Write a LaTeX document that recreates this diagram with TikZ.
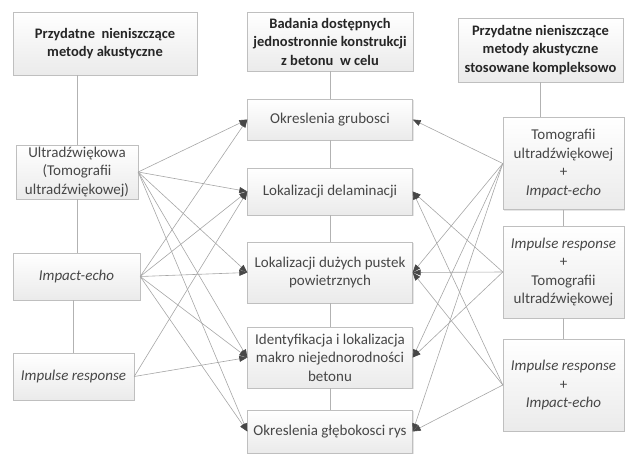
\documentclass[tikz,border=0pt]{standalone}
\usepackage{fontspec}
\setmainfont{Carlito}
\usetikzlibrary{arrows.meta}
\usetikzlibrary{shadows}

\begin{document}
\begin{tikzpicture}[x=1pt, y=-1pt,
    box/.style = {draw=gray!50, top color=white, bottom color=gray!16,
                align=center, inner sep=1pt, text=black!72,
                font=\fontsize{15}{18.5}\selectfont,
                drop shadow={opacity=0.2, shadow xshift=1.2pt, shadow yshift=-1.2pt}},
    head/.style = {box, text=black!85, font=\fontsize{14.5}{18.5}\selectfont\bfseries},
    rail/.style = {draw=gray!60, line width=0.7pt},
    link/.style = {draw=gray!70, line width=0.6pt,
                -{Triangle[length=8pt, width=6pt, color=black!72]}}
                    ]
    \useasboundingbox (0,0) rectangle (629,455);
        % headers
        \foreach \x/\y/\w/\h/\v/\t in {105/43.5/184/63/hL/{Przydatne\ \ nieniszczące\\metody akustyczne},
                330/41.5/166/59/hM/{Badania dostępnych\\jednostronnie konstrukcji\\z betonu\ \ w celu},
                540.5/50/165/64/hR/{Przydatne nieniszczące\\metody akustyczne\\stosowane kompleksowo}}
            \node[head, minimum width=\w pt, minimum height=\h pt] at (\x,\y) (\v) {\t};
        % methods
        \foreach \x/\y/\w/\h/\v/\t in {77/172/122/54/ultra/{Ultradźwiękowa\\(Tomografii\\ultradźwiękowej)},
                76.5/276.5/127/47/impact/{\textit{Impact-echo}},
                73.5/376.5/121/47/impulse/{\textit{Impulse response}}}
            \node[box, minimum width=\w pt, minimum height=\h pt] at (\x,\y) (\v) {\t};
        % aims
        \foreach \y/\h/\v/\t in {119.5/41/grub/{Okreslenia grubosci},
                191.5/47/delam/{Lokalizacji delaminacji},
                272.5/61/pustek/{Lokalizacji dużych pustek\\powietrznych},
                357.5/61/ident/{Identyfikacja i lokalizacja\\makro niejednorodności\\betonu},
                431.5/43/rys/{Okreslenia głębokosci rys}}
            \node[box, minimum width=165pt, minimum height=\h pt] at (330,\y) (\v) {\t};
        % combined methods
        \foreach \y/\v/\t in {163.5/tomo/{Tomografii\\ultradźwiękowej\\+\\\textit{Impact-echo}},
                272/irtomo/{\textit{Impulse response}\\+\\Tomografii\\ultradźwiękowej},
                385/irie/{\textit{Impulse response}\\+\\\textit{Impact-echo}}}
            \node[box, minimum width=121pt, minimum height=92pt] at (563.5,\y) (\v) {\t};
        % vertical rails
        \draw [rail] (hL.south -| ultra.north) -- (ultra.north);
        \draw [rail] (ultra.south) -- (ultra.south |- impact.north);
        \draw [rail] (impact.south -| impulse.north) -- (impulse.north);
        \draw [rail] (hM.south) -- (grub.north);
        \draw [rail] (grub.south) -- (delam.north);
        \draw [rail] (delam.south) -- (pustek.north);
        \draw [rail] (pustek.south) -- (ident.north);
        \draw [rail] (ident.south) -- (rys.north);
        \draw [rail] (hR.south) -- (hR.south |- tomo.north);
        \draw [rail] (tomo.south) -- (irtomo.north);
        \draw [rail] (irtomo.south) -- (irie.north);
        % left links
        \draw [link] (ultra.east) -- (grub.west);
        \draw [link] (ultra.east) -- (delam.west);
        \draw [link] (ultra.east) -- (pustek.west);
        \draw [link] (ultra.east) -- (ident.west);
        \draw [link] (ultra.east) -- (rys.west);
        \draw [link] (impact.east) -- (grub.west);
        \draw [link] (impact.east) -- (delam.west);
        \draw [link] (impact.east) -- (pustek.west);
        \draw [link] (impact.east) -- (ident.west);
        \draw [link] (impact.east) -- (rys.west);
        \draw [link] (impulse.east) -- (delam.west);
        \draw [link] (impulse.east) -- (ident.west);
        % right links
        \draw [link] (tomo.west) -- (grub.east);
        \draw [link] (tomo.west) -- (pustek.east);
        \draw [link] (tomo.west) -- (ident.east);
        \draw [link] (tomo.west) -- (rys.east);
        \draw [link] (irtomo.west) -- (delam.east);
        \draw [link] (irtomo.west) -- (pustek.east);
        \draw [link] (irtomo.west) -- (ident.east);
        \draw [link] (irie.west) -- (delam.east);
        \draw [link] (irie.west) -- (pustek.east);
        \draw [link] (irie.west) -- (rys.east);
    \end{tikzpicture}
\end{document}
